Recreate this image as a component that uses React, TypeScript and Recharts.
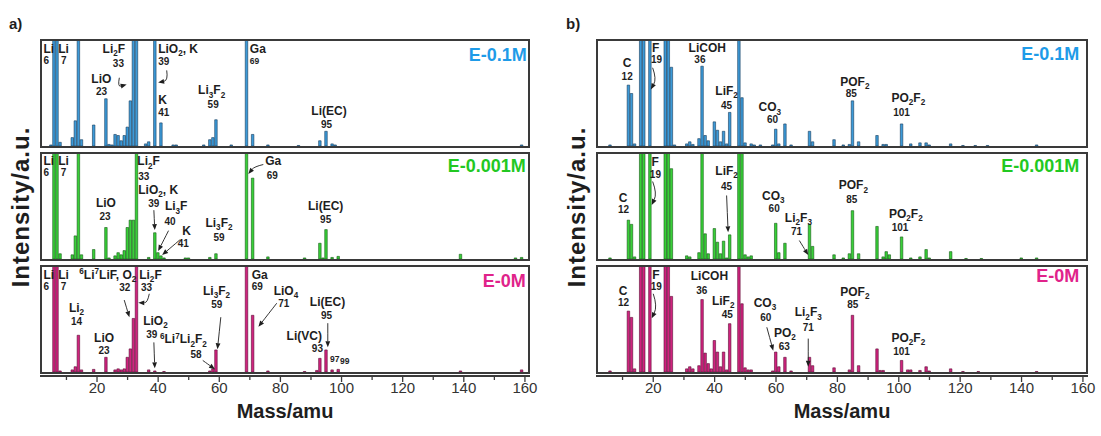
import React from 'react';
import { BarChart, Bar, XAxis, YAxis, ReferenceDot, ReferenceLine } from 'recharts';

type Peak = [number, number];
type Note = { m: number; v: number; t: string; k?: 'n' | 'd' | 'g' | 't'; a?: 'start' | 'middle' | 'end' };
type Arrow = { m1: number; v1: number; m2: number; v2: number; bend?: number };

const sampleNames = ['E-0.1M', 'E-0.001M', 'E-0M'];
const massDomain: [number, number] = [2, 161];
const massTicks = [10, 20, 30, 40, 50, 60, 70, 80, 90, 100, 110, 120, 130, 140, 150, 160];

// a) positive ions, [mass, relative intensity]; >100 runs off the top of the frame
const posHigh: Peak[] = [
  [5, 1], [6, 130], [7, 130], [8, 3.5], [12, 8], [13, 24], [14, 130], [15, 6], [19, 20], [23, 45],
  [24, 1.5], [25, 1], [26, 11], [27, 10], [28, 5], [29, 10], [30, 18], [31, 43], [32, 130], [33, 130],
  [36, 2], [37, 4], [39, 130], [41, 22], [45, 1], [46, 1], [55, 1], [57, 6], [58, 8], [59, 25],
  [64, 1], [69, 130], [71, 11], [76, 1], [86, 0.5], [93, 5], [95, 14], [97, 2], [98, 1], [159, 1],
];
const posMid: Peak[] = [
  [6, 130], [7, 130], [8, 5], [12, 4], [13, 22], [14, 130], [15, 4], [19, 9], [23, 30], [24, 1],
  [26, 3], [27, 6], [28, 4], [29, 8], [30, 30], [31, 37], [32, 37], [33, 130], [37, 1.5], [39, 25],
  [40, 6], [41, 3], [42, 1], [49, 1], [50, 1], [57, 1.5], [59, 5], [69, 130], [71, 77], [76, 2],
  [88, 1], [93, 15], [94, 1], [95, 28], [97, 1.5], [99, 2.5], [139, 4.5], [157, 1], [159, 1.5],
];
const posZero: Peak[] = [
  [6, 130], [7, 130], [8, 1], [12, 2], [13, 5], [14, 35], [15, 2], [19, 2.5], [23, 14], [26, 2],
  [27, 3], [28, 2], [29, 3], [30, 14], [31, 22], [32, 51], [33, 130], [37, 2], [39, 1], [42, 0.5],
  [57, 1], [58, 3], [59, 21], [69, 130], [71, 54], [76, 1], [88, 0.5], [92, 1.5], [93, 13], [95, 21],
  [97, 2], [99, 2.5], [139, 1], [159, 2],
];

// b) negative ions
const negHigh: Peak[] = [
  [6, 1], [12, 58], [13, 50], [14, 2], [16, 130], [17, 130], [19, 130], [24, 130], [25, 130], [26, 75],
  [27, 1], [31, 2], [32, 4], [33, 1.5], [35, 7], [36, 76], [37, 10], [38, 5], [40, 23], [41, 15],
  [42, 4], [43, 14], [44, 2], [45, 32], [48, 130], [49, 46], [50, 3], [52, 2], [53, 1], [55, 1],
  [59, 1], [60, 16], [61, 2], [63, 21], [65, 1], [71, 14], [72, 4], [79, 6], [82, 1], [84, 1.5],
  [85, 43], [87, 4], [93, 10], [95, 1.5], [96, 1.5], [101, 21], [104, 2], [107, 3], [109, 3], [110, 1],
  [117, 2], [121, 0.5], [125, 0.5], [129, 0.5], [145, 1],
];
const negMid: Peak[] = [
  [6, 1], [12, 37], [13, 33], [14, 2], [16, 130], [17, 130], [19, 130], [24, 130], [25, 130], [26, 86],
  [31, 3], [32, 2], [35, 6], [36, 130], [37, 24], [38, 5], [40, 29], [41, 16], [42, 5], [43, 17],
  [44, 1], [45, 23], [48, 130], [49, 130], [50, 4], [51, 2], [52, 3], [60, 34], [61, 6], [63, 15],
  [71, 33], [72, 12], [79, 4], [82, 1], [84, 5], [85, 46], [87, 5], [93, 31], [95, 2], [96, 7],
  [97, 4], [101, 21], [104, 1], [107, 2], [109, 9], [110, 1], [117, 7], [122, 0.5], [127, 0.5], [140, 1],
  [145, 1],
];
const negZero: Peak[] = [
  [6, 1], [12, 58], [13, 52], [14, 3], [16, 130], [17, 130], [19, 130], [24, 130], [25, 130], [26, 72],
  [31, 3], [32, 5], [33, 3], [35, 6], [36, 69], [37, 18], [38, 8], [39, 3], [40, 30], [41, 19],
  [42, 5], [43, 19], [44, 2], [45, 46], [48, 130], [49, 65], [50, 4], [51, 2], [52, 2], [59, 1],
  [60, 19], [61, 5], [63, 14], [65, 1], [71, 14], [72, 6], [79, 4], [84, 2], [85, 54], [87, 6],
  [93, 22], [94, 1.5], [95, 1.5], [101, 11], [103, 2], [104, 2], [107, 1.5], [109, 5], [110, 1], [117, 3],
  [121, 0.5], [126, 0.5], [145, 0.5],
];

// peak labels, placed in (mass, intensity) units
const posHighNotes: Note[] = [
  { m: 2.5, v: 89, t: 'Li', a: 'start' }, { m: 2.5, v: 78.5, t: '6', k: 'd', a: 'start' },
  { m: 7.3, v: 89, t: 'Li', a: 'start' }, { m: 8.2, v: 78.5, t: '7', k: 'd', a: 'start' },
  { m: 25.5, v: 89, t: 'Li_2F' }, { m: 27, v: 75.5, t: '33', k: 'd' },
  { m: 21.4, v: 59.7, t: 'LiO' }, { m: 21.5, v: 48.5, t: '23', k: 'd' },
  { m: 40, v: 89, t: 'LiO_2, K', a: 'start' }, { m: 40, v: 77.5, t: '39', k: 'd', a: 'start' },
  { m: 40, v: 40, t: 'K', a: 'start' }, { m: 40, v: 28.8, t: '41', k: 'd', a: 'start' },
  { m: 57.5, v: 49.2, t: 'Li_3F_2' }, { m: 58, v: 36, t: '59', k: 'd' },
  { m: 70, v: 89, t: 'Ga', a: 'start' }, { m: 70, v: 78, t: '69', k: 'g', a: 'start' },
  { m: 95.9, v: 29.5, t: 'Li(EC)' }, { m: 95.1, v: 17.3, t: '95', k: 'd' },
  { m: 160.6, v: 81.2, t: sampleNames[0], k: 't', a: 'end' },
];
const posHighArrows: Arrow[] = [
  { m1: 27.3, v1: 65, m2: 29.7, v2: 58.5, bend: 8 },
  { m1: 42.8, v1: 72, m2: 40, v2: 60.5, bend: -7 },
];
const posMidNotes: Note[] = [
  { m: 2.5, v: 89.3, t: 'Li', a: 'start' }, { m: 2.5, v: 78.8, t: '6', k: 'd', a: 'start' },
  { m: 7.3, v: 89.3, t: 'Li', a: 'start' }, { m: 8.1, v: 78.8, t: '7', k: 'd', a: 'start' },
  { m: 33.2, v: 89.3, t: 'Li_2F', a: 'start' }, { m: 33.5, v: 75.5, t: '33', k: 'd', a: 'start' },
  { m: 22.9, v: 49.8, t: 'LiO' }, { m: 22.6, v: 37.5, t: '23', k: 'd' },
  { m: 33.5, v: 62, t: 'LiO_2, K', a: 'start' }, { m: 38.6, v: 50, t: '39', k: 'd' },
  { m: 42.2, v: 46.2, t: 'Li_3F', a: 'start' }, { m: 43.9, v: 32.5, t: '40', k: 'd' },
  { m: 49.3, v: 22.9, t: 'K' }, { m: 48.2, v: 11.2, t: '41', k: 'd' },
  { m: 59.9, v: 30.8, t: 'Li_3F_2' }, { m: 59.9, v: 17.5, t: '59', k: 'd' },
  { m: 75, v: 89.3, t: 'Ga', a: 'start' }, { m: 75.5, v: 76.3, t: '69', k: 'd', a: 'start' },
  { m: 94.8, v: 46.7, t: 'Li(EC)' }, { m: 94.8, v: 34.5, t: '95', k: 'd' },
  { m: 160.3, v: 82.6, t: sampleNames[1], k: 't', a: 'end' },
];
const posMidArrows: Arrow[] = [
  { m1: 38.6, v1: 46.5, m2: 38.9, v2: 27.6 },
  { m1: 43.4, v1: 27, m2: 40, v2: 7.6 },
  { m1: 47.1, v1: 18.2, m2: 41.3, v2: 3.8 },
  { m1: 74.4, v1: 90, m2: 69.5, v2: 81, bend: 3 },
];
const posZeroNotes: Note[] = [
  { m: 2.5, v: 89, t: 'Li', a: 'start' }, { m: 2.5, v: 78.5, t: '6', k: 'd', a: 'start' },
  { m: 7.3, v: 89, t: 'Li', a: 'start' }, { m: 8.1, v: 78.5, t: '7', k: 'd', a: 'start' },
  { m: 14.2, v: 89, t: '^6Li^7LiF, O_2', a: 'start' }, { m: 29.1, v: 77, t: '32', k: 'd' },
  { m: 13.3, v: 57.5, t: 'Li_2' }, { m: 13.3, v: 44.6, t: '14', k: 'd' },
  { m: 22.3, v: 28.9, t: 'LiO' }, { m: 22.3, v: 17.3, t: '23', k: 'd' },
  { m: 33.8, v: 89, t: 'Li_2F', a: 'start' }, { m: 34.4, v: 76.8, t: '33', k: 'd', a: 'start' },
  { m: 35.1, v: 44.8, t: 'LiO_2', a: 'start' }, { m: 37.9, v: 32.3, t: '39', k: 'd' },
  { m: 40.6, v: 27.3, t: '^6Li^7Li_2F_2', a: 'start' }, { m: 52.4, v: 13.5, t: '58', k: 'd' },
  { m: 59.1, v: 73.3, t: 'Li_3F_2' }, { m: 59.2, v: 60.5, t: '59', k: 'd' },
  { m: 70.6, v: 89, t: 'Ga', a: 'start' }, { m: 70.6, v: 78, t: '69', k: 'd', a: 'start' },
  { m: 77.8, v: 73.3, t: 'LiO_4', a: 'start' }, { m: 79.3, v: 61.5, t: '71', k: 'd', a: 'start' },
  { m: 95.4, v: 62.9, t: 'Li(EC)' }, { m: 95.1, v: 50.2, t: '95', k: 'd' },
  { m: 87.8, v: 30.5, t: 'Li(VC)' }, { m: 92.1, v: 18.8, t: '93', k: 'd' },
  { m: 96.2, v: 9.8, t: '97', k: 'g', a: 'start' }, { m: 99.5, v: 7.6, t: '99', k: 'g', a: 'start' },
  { m: 160.3, v: 81.2, t: sampleNames[2], k: 't', a: 'end' },
];
const posZeroArrows: Arrow[] = [
  { m1: 28.9, v1: 68.5, m2: 30.6, v2: 52.1 },
  { m1: 37.1, v1: 74.5, m2: 33.5, v2: 66, bend: -6 },
  { m1: 38.6, v1: 28.2, m2: 38.9, v2: 3.5 },
  { m1: 54.6, v1: 11, m2: 58.6, v2: 2.6 },
  { m1: 60.5, v1: 52.2, m2: 59.4, v2: 21.6 },
  { m1: 78.8, v1: 65.5, m2: 72.8, v2: 43.1 },
  { m1: 95.5, v1: 46.5, m2: 95.5, v2: 23.5 },
];

const negHighNotes: Note[] = [
  { m: 11.5, v: 75, t: 'C' }, { m: 11.5, v: 62.4, t: '12', k: 'd' },
  { m: 20.8, v: 90, t: 'F' }, { m: 21.1, v: 79.3, t: '19', k: 'd' },
  { m: 37.6, v: 90, t: 'LiCOH' }, { m: 35.2, v: 78.8, t: '36', k: 'd' },
  { m: 43.9, v: 48.6, t: 'LiF_2' }, { m: 43.9, v: 35.4, t: '45', k: 'd' },
  { m: 58, v: 33.2, t: 'CO_3' }, { m: 58.9, v: 21.5, t: '60', k: 'd' },
  { m: 85.7, v: 57.5, t: 'POF_2' }, { m: 84.5, v: 47, t: '85', k: 'd' },
  { m: 103.1, v: 42.2, t: 'PO_2F_2' }, { m: 100.9, v: 29, t: '101', k: 'd' },
  { m: 158.8, v: 81.9, t: sampleNames[0], k: 't', a: 'end' },
];
const negHighArrows: Arrow[] = [{ m1: 19.8, v1: 74.5, m2: 19.2, v2: 53.9, bend: -5 }];
const negMidNotes: Note[] = [
  { m: 10.2, v: 54, t: 'C' }, { m: 10.3, v: 43.8, t: '12', k: 'd' },
  { m: 20.6, v: 88.5, t: 'F' }, { m: 20.7, v: 77, t: '19', k: 'd' },
  { m: 43.9, v: 80, t: 'LiF_2' }, { m: 43.9, v: 65.7, t: '45', k: 'd' },
  { m: 59.1, v: 56.5, t: 'CO_3' }, { m: 59.4, v: 44.5, t: '60', k: 'd' },
  { m: 67.3, v: 35.4, t: 'Li_2F_3' }, { m: 66.7, v: 22.5, t: '71', k: 'd' },
  { m: 85.2, v: 66.2, t: 'POF_2' }, { m: 84.7, v: 53.5, t: '85', k: 'd' },
  { m: 102.3, v: 39.2, t: 'PO_2F_2' }, { m: 100.4, v: 26.2, t: '101', k: 'd' },
  { m: 158.8, v: 83.2, t: sampleNames[1], k: 't', a: 'end' },
];
const negMidArrows: Arrow[] = [
  { m1: 19.8, v1: 73.8, m2: 19.5, v2: 51.4, bend: -5 },
  { m1: 43.9, v1: 60.5, m2: 44.4, v2: 25.4 },
  { m1: 67.6, v1: 17.6, m2: 70.5, v2: 3.8 },
];
const negZeroNotes: Note[] = [
  { m: 10.2, v: 73.8, t: 'C' }, { m: 10.3, v: 62.8, t: '12', k: 'd' },
  { m: 20.9, v: 89, t: 'F' }, { m: 21, v: 78, t: '19', k: 'd' },
  { m: 38.3, v: 87.6, t: 'LiCOH' }, { m: 35.8, v: 74.5, t: '36', k: 'd' },
  { m: 42.8, v: 63.8, t: 'LiF_2' }, { m: 44.1, v: 51.7, t: '45', k: 'd' },
  { m: 56.4, v: 62.2, t: 'CO_3' }, { m: 56.7, v: 49, t: '60', k: 'd' },
  { m: 62.9, v: 33.6, t: 'PO_2' }, { m: 62.7, v: 21, t: '63', k: 'd' },
  { m: 70.5, v: 53, t: 'Li_2F_3' }, { m: 70.5, v: 39.3, t: '71', k: 'd' },
  { m: 85.7, v: 72.4, t: 'POF_2' }, { m: 85, v: 61.2, t: '85', k: 'd' },
  { m: 103.1, v: 28.9, t: 'PO_2F_2' }, { m: 100.9, v: 16.6, t: '101', k: 'd' },
  { m: 158.8, v: 86, t: sampleNames[2], k: 't', a: 'end' },
];
const negZeroArrows: Arrow[] = [
  { m1: 20, v1: 74.5, m2: 19.5, v2: 51.1, bend: -5 },
  { m1: 57, v1: 42.6, m2: 59.1, v2: 20.3 },
  { m1: 70.5, v1: 31.8, m2: 70.5, v2: 5 },
];

const FONT = 'Arial, "Liberation Sans", Helvetica, sans-serif';
const INK = '#1e1e1e';
const FRAME = '#3a3a3a';
const SIZES = { n: 12, d: 10, g: 8.5, t: 18 };
const palette = [
  { fill: '#3c9ad8', edge: '#173c5c', text: '#1e9be8' },
  { fill: '#38d038', edge: '#145a14', text: '#22c822' },
  { fill: '#d0237f', edge: '#5c0c34', text: '#e0238a' },
];

const PLOT_H = 105;
const AXIS_H = 40;
const TOPS = [41, 154, 267];

// "_x" -> subscript, "^x" -> superscript
function splitFormula(s: string) {
  const out: { t: string; s: number }[] = [];
  for (let i = 0; i < s.length; i++) {
    const c = s[i];
    if ((c === '_' || c === '^') && i + 1 < s.length) {
      out.push({ t: s[i + 1], s: c === '_' ? 1 : -1 });
      i++;
    } else {
      const last = out[out.length - 1];
      if (last && last.s === 0) last.t += c;
      else out.push({ t: c, s: 0 });
    }
  }
  return out;
}

const RichText = ({ x, y, text, size, anchor, fill }: any) => {
  let cur = 0;
  return (
    <text x={x} y={y} textAnchor={anchor} fontSize={size} fontWeight="bold" fontFamily={FONT} fill={fill}>
      {splitFormula(text).map((p, i) => {
        const target = p.s === 1 ? size * 0.28 : p.s === -1 ? -size * 0.36 : 0;
        const dy = target - cur;
        cur = target;
        return (
          <tspan key={i} dy={dy} fontSize={p.s ? size * 0.68 : size}>
            {p.t}
          </tspan>
        );
      })}
    </text>
  );
};

const ArrowShape = ({ x1, y1, x2, y2, bend = 0 }: any) => {
  const dx = x2 - x1;
  const dy = y2 - y1;
  const len = Math.hypot(dx, dy) || 1;
  const cx = (x1 + x2) / 2 + (-dy / len) * bend;
  const cy = (y1 + y2) / 2 + (dx / len) * bend;
  const tx = x2 - cx;
  const ty = y2 - cy;
  const tl = Math.hypot(tx, ty) || 1;
  const ux = tx / tl;
  const uy = ty / tl;
  const hl = 6;
  const hw = 2.4;
  const bx = x2 - ux * hl;
  const by = y2 - uy * hl;
  return (
    <g>
      <path d={`M${x1},${y1} Q${cx},${cy} ${bx},${by}`} fill="none" stroke={INK} strokeWidth={0.9} />
      <path d={`M${x2},${y2} L${bx - uy * hw},${by + ux * hw} L${bx + uy * hw},${by - ux * hw} Z`} fill={INK} />
    </g>
  );
};

const MassTick = (props: any) => {
  const { x, y, payload } = props;
  const major = payload.value % 20 === 0;
  return (
    <g>
      <line x1={x} x2={x} y1={y + 4} y2={y + (major ? 10 : 8)} stroke={FRAME} strokeWidth={1.3} />
      {major && (
        <text x={x} y={y + 21} textAnchor="middle" fontSize={15} fontFamily={FONT} fill="#333">
          {payload.value}
        </text>
      )}
    </g>
  );
};

type StripProps = {
  peaks: Peak[];
  notes: Note[];
  arrows: Arrow[];
  idx: number;
  left: number;
  width: number;
  withAxis: boolean;
};

function Strip({ peaks, notes, arrows, idx, left, width, withAxis }: StripProps) {
  const rows = peaks.map(([m, v]) => ({ m, v }));
  const c = palette[idx];
  const top = TOPS[idx];
  const pad = withAxis ? 24 : 0;
  return (
    <>
      <div style={{ position: 'absolute', left, top }}>
        <BarChart
          width={width + pad}
          height={PLOT_H + (withAxis ? AXIS_H : 0)}
          data={rows}
          margin={{ top: 0, right: pad, bottom: 0, left: 0 }}
        >
          <XAxis
            type="number"
            dataKey="m"
            domain={massDomain}
            allowDataOverflow
            hide={!withAxis}
            ticks={massTicks}
            interval={0}
            height={AXIS_H}
            tickSize={0}
            tickMargin={0}
            axisLine={false}
            tickLine={false}
            tick={(p: any) => <MassTick {...p} />}
          />
          <YAxis type="number" domain={[0, 100]} allowDataOverflow hide />
          <Bar dataKey="v" fill={c.fill} stroke={c.edge} strokeWidth={0.6} barSize={2.5} isAnimationActive={false} />
          {arrows.map((a, i) => (
            <ReferenceLine
              key={`a${i}`}
              segment={[{ x: a.m1, y: a.v1 }, { x: a.m2, y: a.v2 }]}
              ifOverflow="visible"
              shape={(p: any) => <ArrowShape {...p} bend={a.bend} />}
            />
          ))}
          {notes.map((n, i) => (
            <ReferenceDot
              key={`n${i}`}
              x={n.m}
              y={n.v}
              r={0}
              ifOverflow="visible"
              shape={(p: any) => (
                <RichText
                  x={p.cx}
                  y={p.cy}
                  text={n.t}
                  size={SIZES[n.k ?? 'n']}
                  anchor={n.a ?? 'middle'}
                  fill={n.k === 't' ? c.text : INK}
                />
              )}
            />
          ))}
        </BarChart>
      </div>
      <div
        style={{
          position: 'absolute',
          left: left - 2,
          top: top - 2,
          width,
          height: PLOT_H,
          border: `2px solid ${FRAME}`,
          pointerEvents: 'none',
        }}
      />
      {withAxis && (
        <div
          style={{
            position: 'absolute',
            left: left - 2,
            top: top + PLOT_H + 3,
            width: width + 4,
            height: 1.5,
            background: FRAME,
          }}
        />
      )}
    </>
  );
}

const PANEL_A = { left: 42, width: 486 };
const PANEL_B = { left: 598, width: 488 };

export default function App() {
  const aSets = [
    { peaks: posHigh, notes: posHighNotes, arrows: posHighArrows },
    { peaks: posMid, notes: posMidNotes, arrows: posMidArrows },
    { peaks: posZero, notes: posZeroNotes, arrows: posZeroArrows },
  ];
  const bSets = [
    { peaks: negHigh, notes: negHighNotes, arrows: negHighArrows },
    { peaks: negMid, notes: negMidNotes, arrows: negMidArrows },
    { peaks: negZero, notes: negZeroNotes, arrows: negZeroArrows },
  ];
  return (
    <div style={{ position: 'absolute', left: 0, top: 0, width: 1101, height: 436, background: '#fff', overflow: 'hidden' }}>
      <svg width={1101} height={436} style={{ position: 'absolute', left: 0, top: 0 }}>
        <g fontFamily={FONT} fontWeight="bold" fill={INK}>
          <text x={9} y={29} fontSize={15}>a)</text>
          <text x={566} y={29} fontSize={15}>b)</text>
          <text transform="translate(29,207) rotate(-90)" textAnchor="middle" fontSize={24} letterSpacing={1}>
            Intensity/a.u.
          </text>
          <text transform="translate(585,207) rotate(-90)" textAnchor="middle" fontSize={24} letterSpacing={1}>
            Intensity/a.u.
          </text>
          <text x={285} y={418} textAnchor="middle" fontSize={20}>Mass/amu</text>
          <text x={842} y={418} textAnchor="middle" fontSize={20}>Mass/amu</text>
        </g>
      </svg>
      {aSets.map((s, i) => (
        <Strip key={`a${i}`} {...s} idx={i} left={PANEL_A.left} width={PANEL_A.width} withAxis={i === 2} />
      ))}
      {bSets.map((s, i) => (
        <Strip key={`b${i}`} {...s} idx={i} left={PANEL_B.left} width={PANEL_B.width} withAxis={i === 2} />
      ))}
    </div>
  );
}
